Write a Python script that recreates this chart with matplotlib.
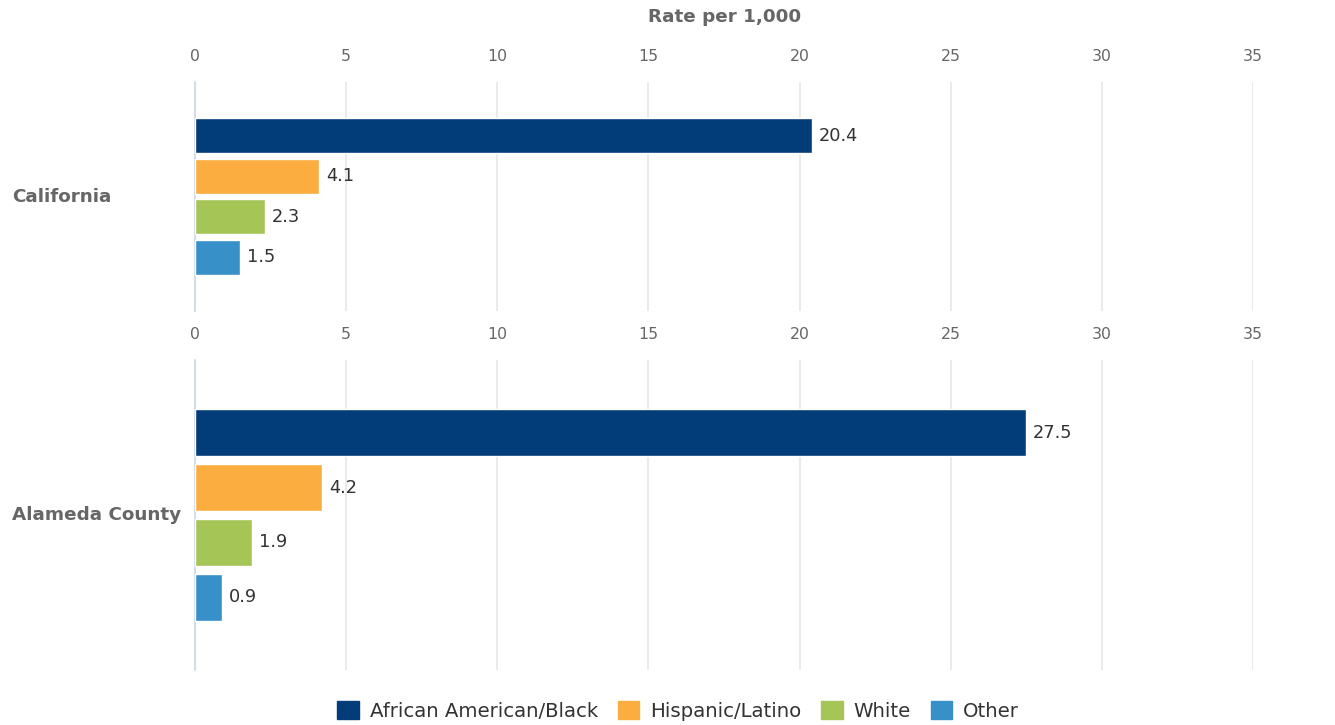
import numpy as np
import matplotlib
matplotlib.use('Agg')
import matplotlib.pyplot as plt
from matplotlib.transforms import blended_transform_factory
from matplotlib.patches import Patch

plt.rcParams['font.family'] = ['DejaVu Sans']

# 数据
regions = ['California', 'Alameda County']
groups = ['African American/Black', 'Hispanic/Latino', 'White', 'Other']
california = [20.4, 4.1, 2.3, 1.5]
alameda = [27.5, 4.2, 1.9, 0.9]
xticks = [0, 5, 10, 15, 20, 25, 30, 35]
colors = ['#033d79', '#fbae3f', '#a6c557', '#3790c8']

fig = plt.figure(figsize=(13.35, 7.25), dpi=100)

left = 195 / 1335
width = (1253 - 195) / 1335
# 两个子图的位置 (上: California, 下: Alameda)
ax1 = fig.add_axes([left, 1 - 311 / 725, width, (311 - 82) / 725])
ax2 = fig.add_axes([left, 1 - 670 / 725, width, (670 - 360) / 725])

for ax, vals, name in [(ax1, california, regions[0]), (ax2, alameda, regions[1])]:
    ypos = np.arange(len(vals))
    bars = ax.barh(ypos, vals, height=0.86, color=colors, edgecolor='white', linewidth=1, zorder=3)
    ax.bar_label(bars, labels=['%.1f' % v for v in vals], padding=5, fontsize=12.8, color='#333333')
    ax.set_xlim(0, 35)
    ax.set_ylim(3 + 1.32, -1.32)
    ax.set_xticks(xticks)
    ax.xaxis.tick_top()
    ax.tick_params(axis='x', length=0, pad=13, labelsize=11.3, labelcolor='#666666')
    ax.set_yticks([])
    ax.grid(True, axis='x', color='#e6e6e6', linewidth=1.2, zorder=0)
    for s in ['top', 'right', 'bottom']:
        ax.spines[s].set_visible(False)
    ax.spines['left'].set_color('#ccd6eb')
    ax.spines['left'].set_linewidth(1.2)
    trans = blended_transform_factory(fig.transFigure, ax.transData)
    ax.text(12 / 1335, 1.5, name, transform=trans, ha='left', va='center',
            fontsize=13.2, fontweight='bold', color='#666666')

fig.text(725 / 1335, 1 - 17 / 725, 'Rate per 1,000', ha='center', va='center',
         fontsize=13.2, fontweight='bold', color='#666666')

handles = [Patch(facecolor=c, edgecolor=c, label=g) for c, g in zip(colors, groups)]
fig.legend(handles=handles, loc='center', bbox_to_anchor=(678 / 1335, 1 - 711 / 725),
           ncol=4, frameon=False, fontsize=14.2, handlelength=1.1, handleheight=1.0,
           handletextpad=0.55, columnspacing=1.0, labelcolor='#333333')

fig.savefig('out.png', dpi=100)
